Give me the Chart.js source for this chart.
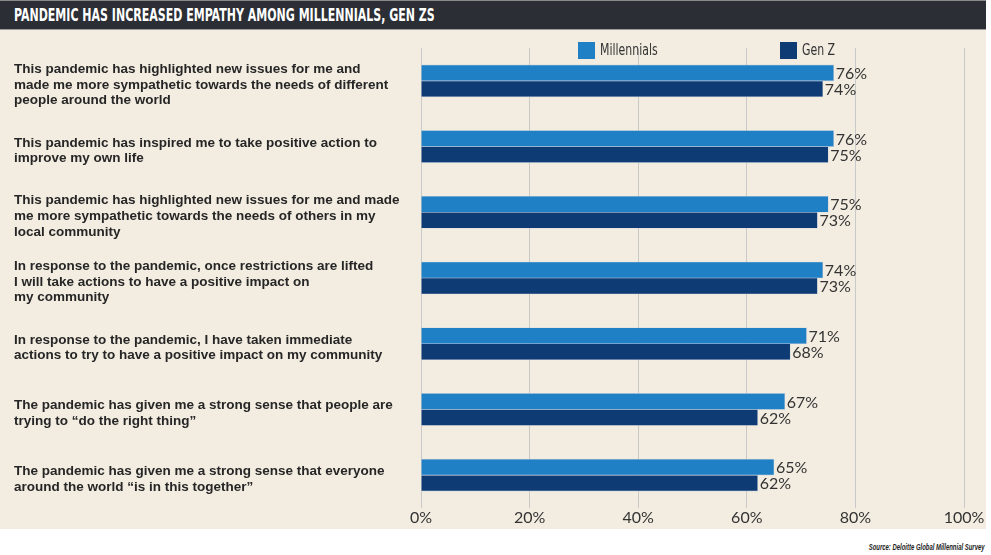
<!DOCTYPE html>
<html>
<head>
<meta charset="utf-8">
<script src="https://cdn.jsdelivr.net/npm/chart.js@4"></script>
<style>
  html, body { margin: 0; padding: 0; background: #fff; }
  #wrap { position: relative; width: 991px; height: 555px; overflow: hidden; }
  #title {
    position: absolute; left: 0; top: 0; width: 986px; height: 28px;
    background: #2b2e35; border-top: 1px solid #8a8a8a; border-bottom: 1px solid #9a9a9a;
    color: #fff; font-family: "Liberation Sans Narrow", "DejaVu Sans Condensed", sans-serif;
    font-weight: bold; font-size: 17px; line-height: 28px; white-space: nowrap;
  }
  #title span { display: inline-block; transform-origin: 0 50%; transform: scaleX(0.72); margin-left: 14px; }
  #panel { position: absolute; left: 0; top: 30px; width: 986px; height: 499px; background: #f3ede1; }
  #source {
    position: absolute; right: 6px; top: 542px; font-family: "Liberation Sans Narrow", sans-serif;
    font-size: 9px; font-weight: bold; font-style: italic; color: #222; white-space: nowrap;
    transform-origin: 100% 50%; transform: scaleX(0.66);
  }
  #myChart { position: absolute; left: 0; top: 0; }
</style>
</head>
<body>
<div id="wrap">
  <div id="title"><span>PANDEMIC HAS INCREASED EMPATHY AMONG MILLENNIALS, GEN ZS</span></div>
  <div id="panel"></div>
  <div id="source">Source: Deloitte Global Millennial Survey</div>
  <canvas id="myChart" width="991" height="555"></canvas>
</div>
<script>
const statements = [
  ['This pandemic has highlighted new issues for me and', 'made me more sympathetic towards the needs of different', 'people around the world'],
  ['This pandemic has inspired me to take positive action to', 'improve my own life'],
  ['This pandemic has highlighted new issues for me and made', 'me more sympathetic towards the needs of others in my', 'local community'],
  ['In response to the pandemic, once restrictions are lifted', 'I will take actions to have a positive impact on', 'my community'],
  ['In response to the pandemic, I have taken immediate', 'actions to try to have a positive impact on my community'],
  ['The pandemic has given me a strong sense that people are', 'trying to \u201cdo the right thing\u201d'],
  ['The pandemic has given me a strong sense that everyone', 'around the world \u201cis in this together\u201d']
];
const millennials = [76, 76, 75, 74, 71, 67, 65];
const genZ = [74, 75, 73, 73, 68, 62, 62];
const seriesNames = ['Millennials', 'Gen Z'];
const xTicks = [0, 20, 40, 60, 80, 100];

// value labels at the end of each bar
const valueLabels = {
  id: 'valueLabels',
  afterDatasetsDraw(chart) {
    const ctx = chart.ctx;
    ctx.save();
    ctx.font = '16px Lato, "Open Sans", sans-serif';
    ctx.fillStyle = '#333';
    ctx.textAlign = 'left';
    ctx.textBaseline = 'middle';
    chart.data.datasets.forEach((ds, i) => {
      chart.getDatasetMeta(i).data.forEach((bar, j) => {
        ctx.fillText(ds.data[j] + '%', bar.x + 2, bar.y + 1);
      });
    });
    ctx.restore();
  }
};

// legend drawn in the top band, condensed text
const topLegend = {
  id: 'topLegend',
  afterDraw(chart, args, opts) {
    const ctx = chart.ctx;
    ctx.save();
    ctx.font = '16px "Liberation Sans Narrow", "DejaVu Sans Condensed", sans-serif';
    ctx.textBaseline = 'middle';
    chart.data.datasets.forEach((ds, i) => {
      const x = opts.xs[i];
      ctx.fillStyle = ds.backgroundColor;
      ctx.fillRect(x, 42, 17, 17);
      ctx.save();
      ctx.translate(x + 22, 51);
      ctx.scale(0.76, 1);
      ctx.fillStyle = '#333';
      ctx.fillText(ds.label, 0, 0);
      ctx.restore();
    });
    ctx.restore();
  }
};

const ctx = document.getElementById('myChart').getContext('2d');
const myChart = new Chart(ctx, {
  type: 'bar',
  data: {
    labels: statements,
    datasets: [{
      label: seriesNames[0],
      data: millennials,
      backgroundColor: '#1f80c5',
      borderColor: 'rgba(190,200,215,0.9)',
      borderWidth: 0.6,
      barThickness: 16
    }, {
      label: seriesNames[1],
      data: genZ,
      backgroundColor: '#0f3b74',
      borderColor: 'rgba(190,200,215,0.9)',
      borderWidth: 0.6,
      barThickness: 16
    }]
  },
  options: {
    indexAxis: 'y',
    responsive: false,
    animation: false,
    layout: { padding: { left: 14, right: 27, top: 48, bottom: 0 } },
    plugins: {
      legend: { display: false },
      tooltip: { enabled: false },
      topLegend: { xs: [578, 780] }
    },
    scales: {
      x: {
        min: 0,
        max: 100,
        afterBuildTicks(scale) { scale.ticks = xTicks.map(v => ({ value: v })); },
        afterFit(scale) { scale.height = 47; },
        grid: { color: '#c9c9c9', lineWidth: 1, drawTicks: false },
        border: { display: false },
        ticks: {
          padding: 0,
          color: '#333',
          font: { family: 'Lato, "Open Sans", sans-serif', size: 16 },
          callback: v => v + '%'
        }
      },
      y: {
        afterFit(scale) { scale.width = 407; },
        grid: { display: false },
        border: { display: false },
        ticks: {
          crossAlign: 'far',
          labelOffset: 4,
          color: '#262626',
          font: { family: '"Liberation Sans", Arial, sans-serif', size: 13.5, weight: 'bold', lineHeight: 1.15 }
        }
      }
    }
  },
  plugins: [valueLabels, topLegend]
});
</script>
</body>
</html>
